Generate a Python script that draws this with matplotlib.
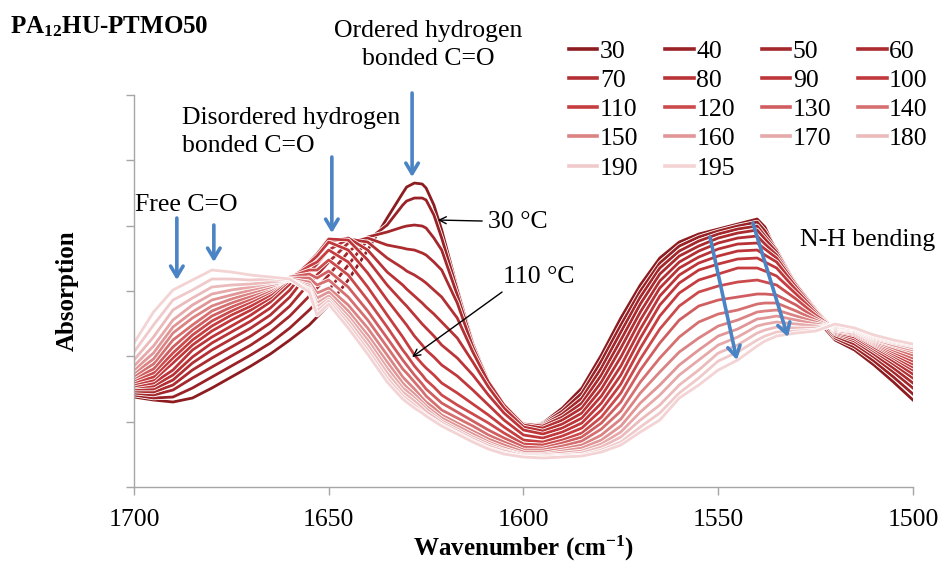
import matplotlib
matplotlib.use("Agg")
import matplotlib.pyplot as plt
import matplotlib.patheffects as pe

plt.rcParams["font.family"] = "Liberation Serif"
plt.rcParams["mathtext.fontset"] = "custom"
plt.rcParams["mathtext.rm"] = "Liberation Serif:bold"
plt.rcParams["mathtext.it"] = "Liberation Serif:bold"
plt.rcParams["mathtext.bf"] = "Liberation Serif:bold"

# wavenumber grid (cm-1) and absorbance (a.u.)
wavenumber = [1700, 1695, 1690, 1685, 1680, 1675, 1670, 1665, 1660, 1655, 1653, 1650, 1645, 1640,
              1635, 1631, 1630, 1628, 1626, 1625, 1623, 1621, 1617, 1613, 1609, 1605, 1600, 1595,
              1590, 1585, 1580, 1575, 1570, 1565, 1560, 1555, 1550, 1545, 1540, 1538, 1535, 1530,
              1525, 1520, 1515, 1510, 1505, 1500]

temps = ["30", "40", "50", "60", "70", "80", "90", "100", "110", "120", "130", "140",
         "150", "160", "170", "180", "190", "195"]

a30 = [90, 87, 85, 89, 99, 110, 121, 133, 147, 162, 170, 182, 207, 237, 269, 294, 300, 304, 303, 299, 282, 257, 199, 144, 104, 79, 61, 64, 79, 99, 132, 169, 202, 229, 245, 253, 258, 263, 268, 260, 235, 197, 169, 147, 137, 122, 105, 87]
a40 = [92, 89, 90, 99, 110, 121, 132, 144, 159, 177, 185, 197, 222, 247, 262, 282, 286, 289, 289, 287, 272, 249, 197, 144, 105, 80, 62, 63, 76, 94, 126, 162, 196, 224, 241, 250, 256, 261, 265, 256, 237, 200, 172, 149, 140, 126, 110, 93]
a50 = [94, 92, 97, 109, 120, 131, 142, 155, 171, 191, 199, 212, 235, 250, 255, 260, 261, 262, 261, 259, 249, 237, 192, 143, 106, 81, 63, 62, 73, 89, 119, 155, 190, 219, 236, 246, 253, 258, 261, 251, 237, 202, 175, 151, 143, 130, 115, 99]
a60 = [96, 95, 102, 117, 129, 140, 151, 164, 181, 204, 212, 225, 244, 249, 242, 239, 238, 237, 234, 232, 225, 217, 184, 140, 106, 82, 63, 61, 70, 84, 112, 147, 183, 213, 231, 241, 249, 254, 257, 248, 235, 203, 177, 153, 146, 133, 119, 104]
a70 = [98, 98, 107, 124, 137, 148, 159, 172, 190, 215, 223, 237, 248, 245, 229, 219, 216, 212, 207, 204, 197, 190, 169, 135, 105, 82, 62, 59, 67, 79, 105, 139, 175, 206, 225, 236, 244, 249, 251, 243, 232, 203, 178, 154, 148, 136, 123, 109]
a80 = [100, 101, 112, 130, 144, 155, 166, 179, 197, 222, 230, 245, 249, 237, 215, 202, 198, 191, 184, 180, 173, 165, 149, 125, 100, 79, 60, 56, 63, 74, 98, 130, 167, 199, 219, 230, 238, 243, 244, 238, 229, 202, 178, 155, 150, 138, 126, 113]
a90 = [101, 104, 117, 137, 150, 161, 172, 185, 203, 225, 233, 248, 247, 227, 202, 185, 181, 172, 163, 159, 151, 142, 129, 112, 92, 74, 57, 53, 59, 69, 91, 121, 158, 191, 212, 224, 231, 236, 237, 232, 225, 200, 177, 156, 152, 140, 129, 117]
a100 = [103, 107, 124, 142, 156, 167, 177, 189, 207, 224, 231, 245, 237, 214, 187, 167, 162, 151, 142, 137, 130, 122, 111, 97, 82, 67, 52, 49, 55, 64, 84, 112, 149, 182, 204, 217, 223, 228, 229, 225, 219, 197, 176, 157, 153, 142, 131, 120]
a110 = [105, 110, 129, 147, 161, 172, 181, 192, 209, 221, 225, 237, 225, 200, 172, 150, 144, 132, 123, 119, 112, 104, 94, 83, 72, 60, 47, 45, 51, 59, 77, 103, 139, 171, 194, 207, 213, 219, 219, 216, 211, 193, 174, 157, 154, 143, 133, 123]
a120 = [107, 114, 134, 152, 166, 176, 185, 195, 210, 217, 217, 227, 212, 187, 160, 137, 132, 121, 112, 107, 100, 92, 82, 73, 64, 54, 43, 42, 47, 54, 70, 94, 128, 158, 181, 195, 201, 205, 207, 205, 202, 188, 172, 158, 155, 144, 135, 126]
a130 = [109, 118, 140, 157, 171, 180, 188, 197, 210, 213, 209, 216, 200, 176, 149, 127, 122, 112, 103, 98, 91, 84, 75, 66, 57, 49, 40, 39, 44, 50, 64, 85, 117, 144, 167, 181, 187, 190, 193, 193, 192, 182, 169, 158, 156, 145, 137, 129]
a140 = [111, 123, 147, 162, 176, 184, 191, 199, 209, 209, 202, 207, 190, 167, 140, 118, 114, 105, 96, 91, 84, 77, 69, 61, 52, 45, 37, 37, 41, 46, 58, 76, 105, 129, 150, 165, 173, 177, 183, 184, 184, 176, 167, 159, 156, 146, 139, 132]
a150 = [114, 128, 154, 169, 181, 188, 194, 200, 208, 205, 194, 199, 182, 159, 132, 110, 106, 98, 89, 85, 79, 72, 64, 56, 48, 42, 35, 35, 38, 42, 52, 68, 94, 115, 135, 149, 161, 167, 175, 176, 177, 171, 165, 159, 157, 147, 141, 135]
a160 = [117, 134, 160, 175, 187, 192, 197, 202, 207, 202, 189, 195, 176, 152, 125, 104, 100, 93, 85, 81, 75, 69, 61, 53, 45, 39, 33, 33, 36, 39, 47, 61, 84, 102, 122, 137, 151, 158, 168, 169, 171, 167, 163, 160, 157, 148, 142, 137]
a170 = [121, 141, 167, 182, 193, 197, 200, 204, 207, 200, 184, 191, 171, 147, 119, 99, 96, 89, 82, 78, 72, 66, 58, 50, 43, 37, 32, 32, 34, 36, 43, 55, 75, 92, 112, 127, 142, 150, 161, 163, 165, 163, 161, 160, 158, 149, 144, 139]
a180 = [127, 150, 177, 189, 200, 202, 203, 205, 207, 198, 180, 188, 167, 142, 114, 95, 92, 86, 79, 75, 70, 64, 56, 48, 41, 36, 31, 31, 32, 34, 40, 50, 67, 82, 102, 117, 134, 142, 154, 157, 160, 159, 159, 161, 158, 150, 145, 141]
a190 = [135, 162, 187, 197, 208, 208, 207, 208, 207, 197, 176, 186, 163, 137, 109, 91, 88, 82, 75, 72, 67, 62, 54, 46, 39, 34, 30, 30, 31, 32, 37, 45, 60, 74, 94, 109, 126, 135, 147, 151, 155, 156, 157, 162, 159, 151, 146, 142]
a195 = [144, 175, 197, 207, 217, 215, 212, 210, 208, 195, 172, 183, 159, 133, 105, 88, 85, 79, 74, 71, 66, 61, 53, 45, 38, 33, 30, 29, 30, 31, 35, 42, 55, 67, 89, 102, 117, 127, 141, 146, 151, 154, 156, 163, 159, 152, 147, 143]

spectra = [a30, a40, a50, a60, a70, a80, a90, a100, a110, a120, a130, a140,
           a150, a160, a170, a180, a190, a195]

colors = ["#8c1c1f", "#9a2226", "#a3272b", "#ab2b2f", "#b22f33", "#b83236", "#bd3539",
          "#c1383c", "#c63d40", "#cb4a4c", "#d05e60", "#d66f70", "#db8283", "#e19596",
          "#e6a8a9", "#ebbbbc", "#f0cacb", "#f3d3d4"]

BLUE = "#4a84c4"
GREY = "#a6a6a6"

fig = plt.figure(figsize=(9.41, 5.64), dpi=100)
ax = fig.add_axes([0.1424, 0.1365, 0.8278, 0.6950])

lines = []
for t, a, c in zip(temps, spectra, colors):
    ln, = ax.plot(wavenumber, a, color=c, lw=2.0, label=t, solid_joinstyle="round",
                  path_effects=[pe.Stroke(linewidth=3.2, foreground="white"), pe.Normal()])
    lines.append(ln)

ax.set_xlim(1700, 1500)
ax.set_ylim(0, 392)
ax.set_xticks([1700, 1650, 1600, 1550, 1500])
ax.set_yticks([i * 392 / 6 for i in range(7)])
ax.tick_params(axis="both", direction="out", length=6, width=1, color=GREY,
               labelcolor="black", labelsize=18.5)
ax.tick_params(axis="x", pad=10)
ax.tick_params(axis="y", labelleft=False)
for side in ["top", "right"]:
    ax.spines[side].set_visible(False)
for side in ["left", "bottom"]:
    ax.spines[side].set_color(GREY)
    ax.spines[side].set_linewidth(1)

ax.set_xlabel("Wavenumber (cm$^{-1}$)", fontsize=18, fontweight="bold", va="center")
ax.xaxis.set_label_coords(0.5, -61 / 392)
ax.set_ylabel("Absorption", fontsize=18, fontweight="bold", va="center")
ax.yaxis.set_label_coords(-67 / 779, 0.5)

fig.text(10 / 941, 1 - 27 / 564, "PA$_{12}$HU-PTMO50", fontsize=18, fontweight="bold",
         va="center", ha="left")

# legend laid out row-wise like the original (4 columns)
order = [0, 4, 8, 12, 16, 1, 5, 9, 13, 17, 2, 6, 10, 14, 3, 7, 11, 15]
leg = ax.legend([lines[i] for i in order], [temps[i] for i in order], ncol=4,
                loc="upper left", bbox_to_anchor=(569 / 941, 1 - 40 / 564),
                bbox_transform=fig.transFigure, frameon=False, fontsize=18.5,
                handlelength=1.1, handletextpad=0.1, columnspacing=1.05,
                labelspacing=0.24, borderpad=0, borderaxespad=0)
for h in leg.get_lines():
    h.set_linewidth(2.6)

# band labels
txt = dict(fontsize=18.5, color="black")
ax.text(1624.5, 442, "Ordered hydrogen\nbonded C=O", ha="center", va="center",
        linespacing=1.36, **txt)
ax.text(1687.7, 355, "Disordered hydrogen\nbonded C=O", ha="left", va="center",
        linespacing=1.36, **txt)
ax.text(1699.7, 282, "Free C=O", ha="left", va="center", **txt)
ax.text(1609.1, 265, "30 \u00b0C", ha="left", va="center", **txt)
ax.text(1605.3, 210, "110 \u00b0C", ha="left", va="center", **txt)
ax.text(1529.0, 247, "N-H bending", ha="left", va="center", **txt)

black_arrow = dict(arrowstyle="->,head_length=0.5,head_width=0.25", color="black", lw=1.0,
                   shrinkA=0, shrinkB=0)
ax.annotate("", xy=(1622.0, 267), xytext=(1610.6, 266), arrowprops=black_arrow)
ax.annotate("", xy=(1628.6, 130), xytext=(1605.5, 195), arrowprops=black_arrow)

blue_arrow = dict(arrowstyle="->,head_length=0.75,head_width=0.45", color=BLUE, lw=2.6,
                  shrinkA=0, shrinkB=0)
for (x0, y0), (x1, y1) in [((1689.0, 269), (1689.0, 207)),
                           ((1679.5, 262), (1679.5, 225)),
                           ((1649.2, 330), (1649.2, 254)),
                           ((1628.6, 394), (1628.6, 310)),
                           ((1552.1, 250), (1545.2, 127)),
                           ((1541.1, 264), (1532.1, 150))]:
    ax.annotate("", xy=(x1, y1), xytext=(x0, y0), arrowprops=blue_arrow,
                annotation_clip=False)

fig.savefig("out.png", dpi=100)
